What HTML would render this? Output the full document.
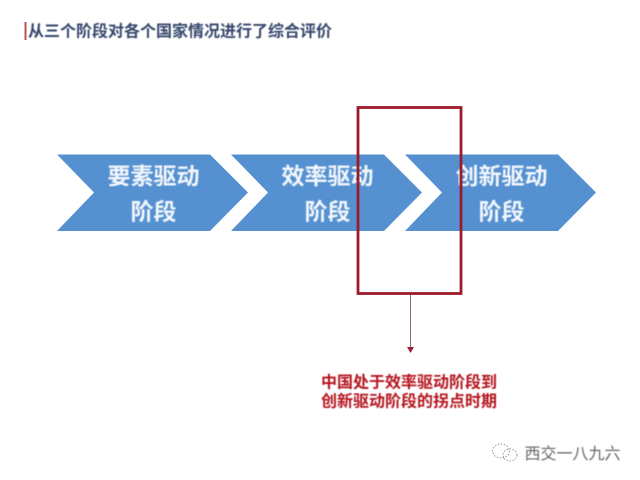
<!DOCTYPE html>
<html lang="zh">
<head>
<meta charset="utf-8">
<style>
html,body{margin:0;padding:0;width:640px;height:480px;overflow:hidden;background:#fff}
svg{display:block}
text{font-family:"Liberation Sans","Noto Sans CJK SC",sans-serif}
</style>
</head>
<body>
<svg width="640" height="480" viewBox="0 0 640 480" xmlns="http://www.w3.org/2000/svg">
<defs><filter id="b" x="-5%" y="-20%" width="110%" height="140%"><feGaussianBlur stdDeviation="0.4"/></filter></defs>
<rect x="24.500" y="22" width="2" height="18" fill="#c0504d"/>
<text x="28" y="36.500" font-size="16" font-weight="700" fill="#34466b" filter="url(#b)">从三个阶段对各个国家情况进行了综合评价</text>
<polygon points="57,154.500 210,154.500 248,192.500 210,231 57,231 94,192.500" fill="#5591d1"/>
<polygon points="231,154.500 384,154.500 422,192.500 384,231 231,231 268,192.500" fill="#5591d1"/>
<polygon points="405,154.500 558,154.500 596,192.500 558,231 405,231 442,192.500" fill="#5591d1"/>
<g font-size="23" font-weight="700" fill="#f2f6fb" text-anchor="middle" filter="url(#b)">
<text x="153.500" y="184">要素驱动</text>
<text x="153.500" y="219.500">阶段</text>
<text x="327.500" y="184">效率驱动</text>
<text x="327.500" y="219.500">阶段</text>
<text x="501.500" y="184">创新驱动</text>
<text x="501.500" y="219.500">阶段</text>
</g>
<rect x="358" y="107.500" width="103" height="186" fill="none" stroke="#9c1a2a" stroke-width="2.800"/>
<line x1="410.500" y1="295" x2="410.500" y2="348" stroke="#8a6a70" stroke-width="1"/>
<polygon points="407,347 414,347 410.500,353" fill="#a01c3c"/>
<g font-size="16" font-weight="700" fill="#b3121f" filter="url(#b)">
<text x="321" y="387.500">中国处于效率驱动阶段到</text>
<text x="321" y="406.500">创新驱动阶段的拐点时期</text>
</g>
<g fill="none" stroke="#9a9a9a" stroke-width="1" stroke-dasharray="1.500 1.500">
<ellipse cx="501" cy="451" rx="8.500" ry="7"/>
<ellipse cx="510" cy="455" rx="7" ry="6"/>
</g>
<text x="524.500" y="459" font-size="16" fill="#666" filter="url(#b)">西交一八九六</text>
</svg>
</body>
</html>
